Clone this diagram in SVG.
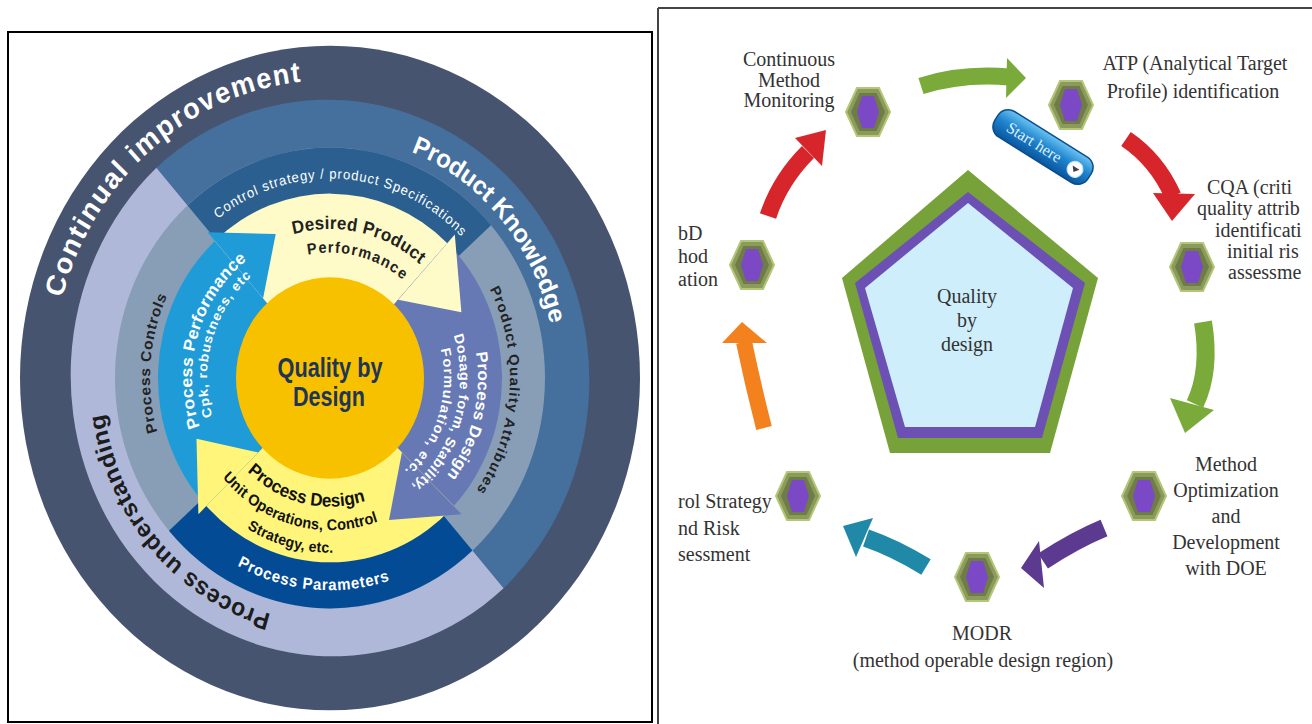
<svg xmlns="http://www.w3.org/2000/svg" xmlns:xlink="http://www.w3.org/1999/xlink" width="1312" height="724" viewBox="0 0 1312 724">
<style>
.sans{font-family:"Liberation Sans",Arial,sans-serif;font-weight:bold}
.serif{font-family:"Liberation Serif","Times New Roman",serif;fill:#333;font-size:20px}
.mid{text-anchor:middle}
.w{fill:#fff}
.d{fill:#1c1c1c}
.band{fill:none;stroke-linecap:butt}
</style>
<defs>
<path id="cw278" d="M0,278 A278,278 0 0 1 0,-278 A278,278 0 0 1 0,278"/>
<path id="cw226" d="M0,226 A226,226 0 0 1 0,-226 A226,226 0 0 1 0,226"/>
<path id="cw228" d="M0,228 A228,228 0 0 1 0,-228 A228,228 0 0 1 0,228"/>
<path id="cw186" d="M0,186 A186,186 0 0 1 0,-186 A186,186 0 0 1 0,186"/>
<path id="cw180" d="M0,180 A180,180 0 0 1 0,-180 A180,180 0 0 1 0,180"/>
<path id="cw138" d="M0,138 A138,138 0 0 1 0,-138 A138,138 0 0 1 0,138"/>
<path id="cw123" d="M0,123 A123,123 0 0 1 0,-123 A123,123 0 0 1 0,123"/>
<path id="cw139" d="M0,139 A139,139 0 0 1 0,-139 A139,139 0 0 1 0,139"/>
<path id="cw117" d="M0,117 A117,117 0 0 1 0,-117 A117,117 0 0 1 0,117"/>
<path id="cw148" d="M0,148 A148,148 0 0 1 0,-148 A148,148 0 0 1 0,148"/>
<path id="cw130" d="M0,130 A130,130 0 0 1 0,-130 A130,130 0 0 1 0,130"/>
<path id="cw114" d="M0,114 A114,114 0 0 1 0,-114 A114,114 0 0 1 0,114"/>
<path id="ccw198" d="M-198,0 A198,198 0 0 0 198,0"/>
<path id="ccw120" d="M-120,0 A120,120 0 0 0 120,0"/>
<path id="ccw142" d="M-142,0 A142,142 0 0 0 142,0"/>
<path id="ccw163" d="M-163,0 A163,163 0 0 0 163,0"/>
<g id="hex">
<polygon points="-22,0 -11,-24 11,-24 22,0 11,24 -11,24" fill="#8c9b5c" stroke="#b2c778" stroke-width="2"/>
<polygon points="-17,0 -8.5,-19 8.5,-19 17,0 8.5,19 -8.5,19" fill="#6e7c45"/>
<polygon points="-11,0 -6,-16 6,-16 11,0 6,16 -6,16" fill="#7b48c6"/>
</g>
<linearGradient id="pill" x1="0" y1="0" x2="0" y2="1">
<stop offset="0" stop-color="#6cc3f2"/>
<stop offset="0.45" stop-color="#1f86cf"/>
<stop offset="1" stop-color="#0a55a0"/>
</linearGradient>
</defs>

<rect id="left-frame" x="8" y="32" width="644" height="690" fill="#fff" stroke="#000" stroke-width="2"/>

<g id="qbd-wheel" transform="translate(330,378) scale(1,1.072)">
<g id="ring-outer">
<circle r="310" fill="#46546f"/>
</g>
<g id="ring-knowledge">
<path d="M0,0 L-173.6,-196.2 A262,262 0 0 1 173.6,196.2 Z" fill="#456f9c"/>
<path d="M0,0 L173.6,196.2 A262,262 0 0 1 -173.6,-196.2 Z" fill="#b0b8d9"/>
</g>
<g id="ring-specs">
<circle r="215" fill="#889eb6"/>
<path d="M0,0 L-142.4,-161.0 A215,215 0 0 1 161.0,-142.4 Z" fill="#2b5f8f"/>
<path d="M0,0 L142.4,161.0 A215,215 0 0 1 -161.0,142.4 Z" fill="#034c95"/>
</g>
<g id="cycle-arrows">
<path d="M0,0 L-123.7,119.5 A172,172 0 0 1 -115.1,-127.8 Z" fill="#1f9bd7"/>
<path d="M0,0 L-115.1,-127.8 A172,172 0 0 1 117.3,-125.8 Z" fill="#fffbc9"/>
<path d="M0,0 L117.3,-125.8 A172,172 0 0 1 123.7,119.5 Z" fill="#6679b5"/>
<path d="M0,0 L123.7,119.5 A172,172 0 0 1 -123.7,119.5 Z" fill="#fff57a"/>
<polygon points="-122.4,-136.0 -54.3,-134.4 -66.9,-74.3" fill="#1f9bd7"/>
<polygon points="124.8,-133.8 131.4,-61.3 68.2,-73.1" fill="#fffbc9"/>
<polygon points="131.6,127.1 59.0,132.5 71.9,69.5" fill="#6679b5"/>
<polygon points="-131.6,127.1 -133.5,56.7 -71.9,69.5" fill="#fff57a"/>
</g>
<g id="core">
<circle r="94" fill="#f8c100"/>
</g>
<g id="wheel-labels" class="sans">
<text class="w" font-size="27"><textPath href="#cw278" startOffset="511.9" textLength="332" lengthAdjust="spacing">Continual improvement</textPath></text>
<text class="w" font-size="24"><textPath href="#cw226" startOffset="792.8" textLength="221" lengthAdjust="spacing">Product Knowledge</textPath></text>
<text class="d" font-size="23"><textPath href="#cw228" startOffset="59.7" textLength="265" lengthAdjust="spacing">Process understanding</textPath></text>
<text class="w" font-size="13" font-weight="normal"><textPath href="#cw186" startOffset="463.6" textLength="266" lengthAdjust="spacing">Control strategy / product Specifications</textPath></text>
<text fill="#222" font-size="14"><textPath href="#cw180" startOffset="761.5" textLength="198" lengthAdjust="spacing">Product Quality Attributes</textPath></text>
<text fill="#222" font-size="14.5"><textPath href="#cw180" startOffset="231.5" textLength="130" lengthAdjust="spacing">Process Controls</textPath></text>
<text class="w" font-size="15"><textPath href="#ccw198" startOffset="214.3" textLength="157" lengthAdjust="spacing">Process Parameters</textPath></text>
<text class="w" font-size="16.5"><textPath href="#cw138" startOffset="170" textLength="174" lengthAdjust="spacing">Process Performance</textPath></text>
<text class="w" font-size="13"><textPath href="#cw123" startOffset="156.7" textLength="144" lengthAdjust="spacing">Cpk, robustness, etc</textPath></text>
<text fill="#222" font-size="17"><textPath href="#cw139" startOffset="399.3" textLength="135" lengthAdjust="spacing">Desired Product</textPath></text>
<text fill="#222" font-size="14.5"><textPath href="#cw117" startOffset="345.1" textLength="101" lengthAdjust="spacing">Performance</textPath></text>
<text class="w" font-size="16"><textPath href="#cw148" startOffset="672.9" textLength="122" lengthAdjust="spacing">Process Design</textPath></text>
<text class="w" font-size="13.5"><textPath href="#cw130" startOffset="571.8" textLength="156" lengthAdjust="spacing">Dosage form, Stability,</textPath></text>
<text class="w" font-size="13.5"><textPath href="#cw114" startOffset="509.4" textLength="125" lengthAdjust="spacing">Formulation, etc.</textPath></text>
<text fill="#111" font-size="17"><textPath href="#ccw120" startOffset="97.4" textLength="127" lengthAdjust="spacing">Process Design</textPath></text>
<text fill="#111" font-size="14.5"><textPath href="#ccw142" startOffset="101.1" textLength="171" lengthAdjust="spacing">Unit Operations, Control</textPath></text>
<text fill="#111" font-size="14"><textPath href="#ccw163" startOffset="169" textLength="90" lengthAdjust="spacing">Strategy, etc.</textPath></text>
</g>
</g>
<g id="core-label" class="sans" fill="#1e3555">
<text x="330" y="377" font-size="27" text-anchor="middle" textLength="105" lengthAdjust="spacingAndGlyphs">Quality by</text>
<text x="329" y="406" font-size="27" text-anchor="middle" textLength="72" lengthAdjust="spacingAndGlyphs">Design</text>
</g>

<g id="right-frame" stroke="#444" stroke-width="2">
<line x1="658" y1="8" x2="1312" y2="8"/>
<line x1="658" y1="8" x2="658" y2="724"/>
</g>

<g id="pentagon">
<polygon points="968,170 1098,278 1050,453 890,453 842,278" fill="#77a23a"/>
<polygon points="968,192 1085,283 1042,438 898,438 855,283" fill="#6d50b3"/>
<polygon points="968,203 1073,288 1035,427 905,427 865,288" fill="#cdeefa"/>
<text class="serif mid" x="967" y="303" font-size="18">Quality</text>
<text class="serif mid" x="967" y="327" font-size="18">by</text>
<text class="serif mid" x="967" y="351" font-size="18">design</text>
</g>

<g id="connectors">
<g id="arrow-top-green">
<path class="band" d="M921,86 Q962,73 1009,77" stroke="#7aab3a" stroke-width="17"/>
<polygon points="1007,58 1026,78 1006,98" fill="#7aab3a"/>
</g>
<g id="arrow-atp-cqa">
<path class="band" d="M1126,139 Q1157,160 1173,196" stroke="#d7262b" stroke-width="17"/>
<polygon points="1153,193 1195,194 1172,221" fill="#d7262b"/>
</g>
<g id="arrow-cqa-opt">
<path class="band" d="M1203,322 Q1211,370 1195,404" stroke="#7aab3a" stroke-width="18"/>
<polygon points="1170,398 1214,410 1185,433" fill="#7aab3a"/>
</g>
<g id="arrow-opt-modr">
<path class="band" d="M1104,528 Q1075,540 1043,561" stroke="#5b3a90" stroke-width="18"/>
<polygon points="1039,541 1044,588 1021,568" fill="#5b3a90"/>
</g>
<g id="arrow-modr-control">
<path class="band" d="M926,567 Q895,548 866,538" stroke="#2089a8" stroke-width="18"/>
<polygon points="873,518 843,526 856,557" fill="#2089a8"/>
</g>
<g id="arrow-control-validation">
<path class="band" d="M764,428 Q753,385 744,342" stroke="#f3811e" stroke-width="16"/>
<polygon points="722,343 742,322 767,343" fill="#f3811e"/>
</g>
<g id="arrow-validation-monitoring">
<path class="band" d="M768,216 Q780,180 808,152" stroke="#d7262b" stroke-width="17"/>
<polygon points="795,138 826,130 822,166" fill="#d7262b"/>
</g>
</g>

<g id="start-here" transform="translate(1043,147) rotate(32)">
<rect x="-55" y="-15" width="110" height="30" rx="12" fill="url(#pill)" stroke="#0b4d8a" stroke-width="1.5"/>
<text x="-10" y="6" font-family="'Liberation Serif','Times New Roman',serif" font-size="16" fill="#dff0ff" text-anchor="middle">Start here</text>
<circle cx="39" cy="2" r="8" fill="#fff" stroke="#bfe3ff" stroke-width="1"/>
<polygon points="35,0 43,0 39,5" fill="#444"/>
</g>

<g id="node-monitoring">
<use href="#hex" x="868" y="112"/>
<text class="serif mid" x="789" y="66">Continuous</text>
<text class="serif mid" x="789" y="87">Method</text>
<text class="serif mid" x="789" y="107">Monitoring</text>
</g>
<g id="node-atp">
<use href="#hex" x="1071" y="105"/>
<text class="serif mid" x="1195" y="70" font-size="19">ATP (Analytical Target</text>
<text class="serif mid" x="1193" y="98" font-size="19">Profile) identification</text>
</g>
<g id="node-cqa">
<use href="#hex" x="1192" y="267"/>
<text class="serif" x="1207" y="194" font-size="19">CQA (criti</text>
<text class="serif" x="1197" y="215" font-size="19">quality attrib</text>
<text class="serif" x="1215" y="237" font-size="19">identificati</text>
<text class="serif" x="1227" y="258" font-size="19">initial ris</text>
<text class="serif" x="1228" y="279" font-size="19">assessme</text>
</g>
<g id="node-optimization">
<use href="#hex" x="1144" y="496"/>
<text class="serif mid" x="1226" y="471">Method</text>
<text class="serif mid" x="1226" y="497">Optimization</text>
<text class="serif mid" x="1226" y="523">and</text>
<text class="serif mid" x="1226" y="549">Development</text>
<text class="serif mid" x="1226" y="575">with DOE</text>
</g>
<g id="node-modr">
<use href="#hex" x="977" y="577"/>
<text class="serif mid" x="982" y="640">MODR</text>
<text class="serif mid" x="983" y="667">(method operable design region)</text>
</g>
<g id="node-control">
<use href="#hex" x="798" y="496"/>
<text class="serif" x="678" y="508" font-size="19">rol Strategy</text>
<text class="serif" x="678" y="535" font-size="19">nd Risk</text>
<text class="serif" x="678" y="561" font-size="19">sessment</text>
</g>
<g id="node-validation">
<use href="#hex" x="752" y="265"/>
<text class="serif" x="678" y="240" font-size="19">bD</text>
<text class="serif" x="678" y="263" font-size="19">hod</text>
<text class="serif" x="678" y="286" font-size="19">ation</text>
</g>
</svg>
